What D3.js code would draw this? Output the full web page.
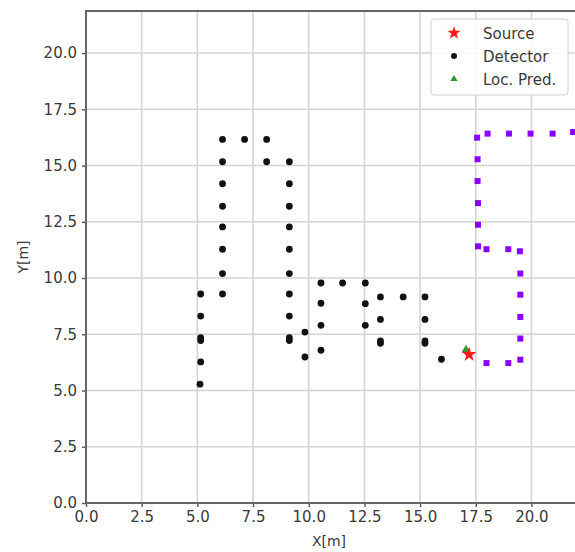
<!DOCTYPE html>
<html>
<head>
<meta charset="utf-8">
<script src="https://cdn.jsdelivr.net/npm/d3@7"></script>
<style>
  body { margin: 0; background: #fff; }
  text { font-family: "DejaVu Sans", sans-serif; fill: #3a3a3a; }
</style>
</head>
<body>
<svg id="chart" width="575" height="552"></svg>
<script>
// detector positions (black)
var detX = [6.13, 7.12, 8.11, 6.13, 8.11, 9.13, 6.13, 9.13, 6.13, 9.13, 6.13, 9.13,
            6.13, 9.13, 6.13, 9.13, 5.15, 6.13, 9.13, 10.55, 11.52, 12.54, 5.15, 9.13,
            10.55, 12.54, 13.22, 14.24, 15.22, 13.22, 15.22, 10.55, 12.54, 5.15, 5.15,
            9.13, 9.13, 9.83, 9.83, 10.55, 13.22, 13.22, 15.22, 15.22, 15.96, 5.15, 5.12];
var detY = [16.16, 16.16, 16.16, 15.17, 15.17, 15.17, 14.19, 14.19, 13.19, 13.19, 12.27, 12.27,
            11.28, 11.28, 10.2, 10.2, 9.29, 9.29, 9.29, 9.78, 9.78, 9.78, 8.31, 8.31,
            8.88, 8.86, 9.16, 9.16, 9.16, 8.16, 8.16, 7.9, 7.9, 7.22, 7.35,
            7.22, 7.35, 7.6, 6.49, 6.79, 7.1, 7.2, 7.1, 7.2, 6.39, 6.27, 5.28];

// other path (purple squares, not in legend)
var pathX = [17.56, 18.03, 18.99, 19.96, 20.95, 21.87, 17.58, 17.58, 17.6, 17.6, 17.6,
             17.98, 18.96, 19.48, 19.5, 19.5, 19.5, 19.5, 19.5, 17.98, 18.96];
var pathY = [16.24, 16.42, 16.42, 16.42, 16.42, 16.49, 15.28, 14.31, 13.33, 12.37, 11.41,
             11.28, 11.28, 11.19, 10.2, 9.26, 8.27, 7.31, 6.37, 6.22, 6.22];

var sourceX = [17.2], sourceY = [6.6];
var predX = [17.06], predY = [6.82];

var xTicks = [0, 2.5, 5, 7.5, 10, 12.5, 15, 17.5, 20];
var yTicks = [0, 2.5, 5, 7.5, 10, 12.5, 15, 17.5, 20];
var legendLabels = ["Source", "Detector", "Loc. Pred."];

var svg = d3.select("#chart");
var pLeft = 86, pRight = 576, pTop = 11, pBottom = 503;

var x = d3.scaleLinear().domain([0, 22]).range([pLeft, pRight]);
var y = d3.scaleLinear().domain([0, 21.87]).range([pBottom, pTop]);

// grid
svg.append("g").selectAll("line").data(xTicks).enter().append("line")
  .attr("x1", function (d) { return x(d); }).attr("x2", function (d) { return x(d); })
  .attr("y1", pTop).attr("y2", pBottom)
  .attr("stroke", "#d4d4d4").attr("stroke-width", 1.6);
svg.append("g").selectAll("line").data(yTicks).enter().append("line")
  .attr("y1", function (d) { return y(d); }).attr("y2", function (d) { return y(d); })
  .attr("x1", pLeft).attr("x2", pRight)
  .attr("stroke", "#d4d4d4").attr("stroke-width", 1.6);

// axes
var xAxis = svg.append("g").attr("transform", "translate(0," + pBottom + ")")
  .call(d3.axisBottom(x).tickValues(xTicks).tickFormat(d3.format(".1f")).tickSizeOuter(0).tickSize(4).tickPadding(4));
var yAxis = svg.append("g").attr("transform", "translate(" + pLeft + ",0)")
  .call(d3.axisLeft(y).tickValues(yTicks).tickFormat(d3.format(".1f")).tickSizeOuter(0).tickSize(4).tickPadding(5));
[xAxis, yAxis].forEach(function (a) {
  a.select(".domain").remove();
  a.selectAll(".tick line").attr("stroke", "#555").attr("stroke-width", 1.4);
  a.selectAll(".tick text").attr("font-size", 15).attr("fill", "#3a3a3a")
    .style("font-family", "DejaVu Sans");
});

// spines
svg.append("path")
  .attr("d", "M" + pLeft + "," + pBottom + "V" + pTop + "H" + pRight)
  .attr("fill", "none").attr("stroke", "#666").attr("stroke-width", 2);
svg.append("line").attr("x1", pLeft).attr("x2", pRight).attr("y1", pBottom).attr("y2", pBottom)
  .attr("stroke", "#666").attr("stroke-width", 2);

// axis labels
svg.append("text").attr("x", (pLeft + pRight) / 2 - 2).attr("y", 546)
  .attr("text-anchor", "middle").attr("font-size", 14).text("X[m]");
svg.append("text").attr("transform", "translate(28," + ((pTop + pBottom) / 2) + ") rotate(-90)")
  .attr("text-anchor", "middle").attr("font-size", 14).text("Y[m]");

var plot = svg.append("g");

// purple path
plot.selectAll("rect.path").data(pathX).enter().append("rect")
  .attr("class", "path")
  .attr("x", function (d) { return x(d) - 3; })
  .attr("y", function (d, i) { return y(pathY[i]) - 3; })
  .attr("width", 6).attr("height", 6)
  .attr("fill", "#8c00ff");

// detectors
plot.selectAll("circle.det").data(detX).enter().append("circle")
  .attr("class", "det")
  .attr("cx", function (d) { return x(d); })
  .attr("cy", function (d, i) { return y(detY[i]); })
  .attr("r", 3.4).attr("fill", "#111");

var star = d3.symbol().type(d3.symbolStar).size(70);
var tri = d3.symbol().type(d3.symbolTriangle).size(30);

plot.selectAll("path.pred").data(predX).enter().append("path")
  .attr("class", "pred").attr("d", tri)
  .attr("transform", function (d, i) { return "translate(" + x(d) + "," + y(predY[i]) + ")"; })
  .attr("fill", "#2a9a2a");

plot.selectAll("path.src").data(sourceX).enter().append("path")
  .attr("class", "src").attr("d", star)
  .attr("transform", function (d, i) { return "translate(" + x(d) + "," + y(sourceY[i]) + ")"; })
  .attr("fill", "#ff1a1a");

// legend
var lg = svg.append("g");
lg.append("rect").attr("x", 431).attr("y", 19).attr("width", 137).attr("height", 76)
  .attr("rx", 3).attr("fill", "#fff").attr("fill-opacity", 0.85)
  .attr("stroke", "#d0d0d0").attr("stroke-width", 1);
var rows = lg.selectAll("g.row").data(legendLabels).enter().append("g")
  .attr("transform", function (d, i) { return "translate(454," + (33 + i * 23) + ")"; });
rows.append("path").attr("d", function (d, i) {
    if (i === 0) return d3.symbol().type(d3.symbolStar).size(55)();
    if (i === 1) return d3.symbol().type(d3.symbolCircle).size(28)();
    return d3.symbol().type(d3.symbolTriangle).size(22)();
  })
  .attr("fill", function (d, i) { return ["#ff1a1a", "#111", "#2a9a2a"][i]; });
rows.append("text").attr("x", 29).attr("y", 5.5).attr("font-size", 15).text(function (d) { return d; });
</script>
</body>
</html>
